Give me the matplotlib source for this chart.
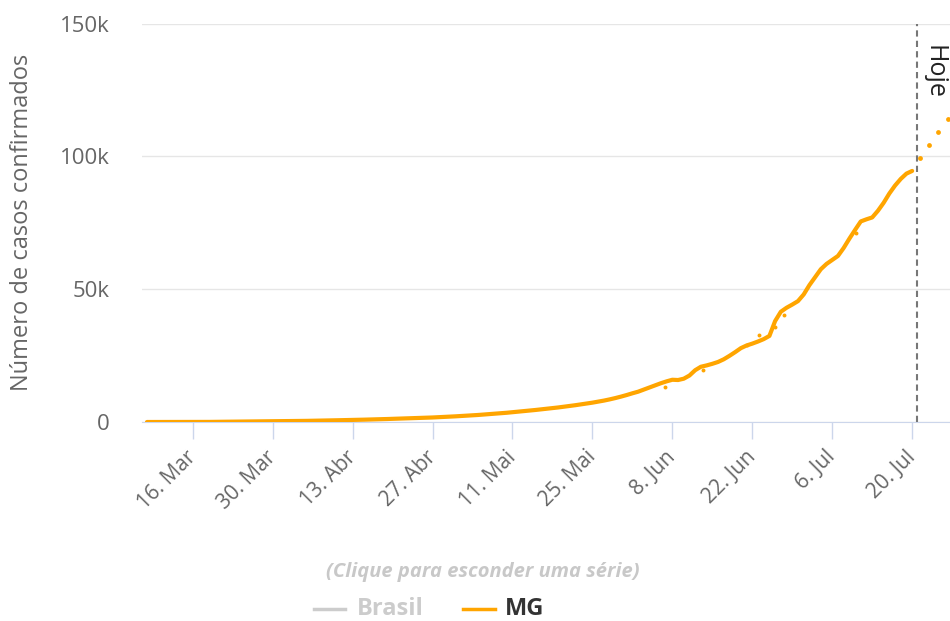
import numpy as np
import pandas as pd
import matplotlib
matplotlib.use("Agg")
import matplotlib.pyplot as plt
from matplotlib.lines import Line2D

# Casos confirmados acumulados em MG (diario, 8 Mar - 20 Jul 2020)
datas = pd.date_range("2020-03-08", "2020-07-20", freq="D")
casos_mg = [
    # Mar 8-31
    1, 1, 1, 1, 1, 2, 4, 7, 15, 21, 29, 38, 60, 83, 130, 133, 153, 189, 205, 231, 261, 280, 300, 314,
    # Abr
    332, 350, 370, 397, 430, 480, 500, 560, 600, 640, 680, 720, 790, 830, 880,
    930, 1000, 1060, 1120, 1190, 1250, 1310, 1380, 1440, 1520, 1600, 1700, 1800, 1900, 2020,
    # Mai
    2130, 2250, 2370, 2500, 2650, 2810, 2950, 3120, 3300, 3480, 3680, 3870, 4080, 4300, 4520,
    4750, 4980, 5220, 5470, 5740, 6020, 6320, 6630, 6950, 7280, 7650, 8050, 8500, 9000, 9550, 10150,
    # Jun
    10800, 11400, 12200, 13000, 13800, 14600, 15300, 15900, 15800, 16300, 17500, 19500, 20800, 21300, 21900,
    22600, 23600, 24900, 26300, 27800, 28800, 29500, 30300, 31200, 32400, 38000, 41500, 43000, 44200, 45500,
    # Jul 1-20
    48000, 51500, 54500, 57500, 59500, 61000, 62500, 65500, 69000, 72300, 75500, 76300, 77000, 79500, 82500,
    86000, 89000, 91500, 93500, 94500,
]

# pontos avulsos fora da linha
avulsos_datas = pd.to_datetime(["2020-06-06 16:00", "2020-06-13 10:00", "2020-06-21 00:00",
                                "2020-06-23 06:00", "2020-06-26 00:00", "2020-06-27 12:00",
                                "2020-07-10 06:00"])
avulsos_vals = [13100, 19600, 29000, 32800, 35900, 40300, 71200]

# projecao
proj_datas = pd.to_datetime(["2020-07-21 10:00", "2020-07-23 00:00", "2020-07-24 14:00", "2020-07-26 05:00"])
proj_vals = [99500, 104100, 109100, 114000]

hoje = pd.Timestamp("2020-07-20 19:00")

tick_datas = pd.date_range("2020-03-16", "2020-07-20", freq="14D")
tick_labels = ["16. Mar", "30. Mar", "13. Abr", "27. Abr", "11. Mai",
               "25. Mai", "8. Jun", "22. Jun", "6. Jul", "20. Jul"]
y_ticks = [0, 50000, 100000, 150000]
y_labels = ["0", "50k", "100k", "150k"]

plt.rcParams["font.family"] = ["Open Sans", "DejaVu Sans"]

laranja = "#ffa500"
cinza_txt = "#666666"
eixo = "#ccd6eb"

fig = plt.figure(figsize=(9.5, 6.21), dpi=100)
ax = fig.add_axes([142 / 950, 199 / 621, 808 / 950, 398.5 / 621])

ax.plot(datas, casos_mg, color=laranja, lw=3, solid_capstyle="round", zorder=3)
ax.scatter(avulsos_datas, avulsos_vals, s=8, color=laranja, zorder=3, linewidths=0)
ax.scatter(proj_datas, proj_vals, s=12, color=laranja, zorder=3, linewidths=0, clip_on=False)

ax.axvline(hoje, color="#777777", lw=1.5, ls=(0, (3, 2)), zorder=2)
ax.text(hoje + pd.Timedelta(hours=22), 142000, "Hoje", rotation=-90, ha="left", va="top",
        fontsize=18, color="#222222")

ax.set_xlim(pd.Timestamp("2020-03-07 03:00"), pd.Timestamp("2020-07-26 15:00"))
ax.set_ylim(0, 150000)

ax.set_yticks(y_ticks)
ax.set_yticklabels(y_labels)
ax.set_xticks(tick_datas)
ax.set_xticklabels(tick_labels, rotation=45, ha="right", va="center", rotation_mode="anchor")

ax.tick_params(axis="y", length=0, pad=23, labelsize=16, labelcolor=cinza_txt)
ax.tick_params(axis="x", length=12, width=1, color=eixo, pad=11, labelsize=15, labelcolor=cinza_txt)
ax.grid(axis="y", color="#e6e6e6", lw=1)
ax.set_axisbelow(True)
for s in ["top", "right", "left"]:
    ax.spines[s].set_visible(False)
ax.spines["bottom"].set_color(eixo)
ax.spines["bottom"].set_zorder(1)

fig.text(22 / 950, 1 - 222 / 621, "Número de casos confirmados", rotation=90,
         ha="center", va="center", fontsize=17, color=cinza_txt)

# legenda
fig.text(483 / 950, 1 - 572 / 621, "(Clique para esconder uma série)", ha="center", va="center",
         fontsize=14.5, fontstyle="italic", fontweight="bold", color="#c8c8c8")
y_leg = 1 - 609 / 621
fig.add_artist(Line2D([314 / 950, 345 / 950], [y_leg, y_leg], color="#cccccc", lw=2.5))
fig.text(357 / 950, y_leg, "Brasil", ha="left", va="center", fontsize=17, fontweight="bold", color="#cccccc")
fig.add_artist(Line2D([463 / 950, 495 / 950], [y_leg, y_leg], color=laranja, lw=2.5))
fig.text(505 / 950, y_leg, "MG", ha="left", va="center", fontsize=17, fontweight="bold", color="#333333")

fig.savefig("out.png", dpi=100)
